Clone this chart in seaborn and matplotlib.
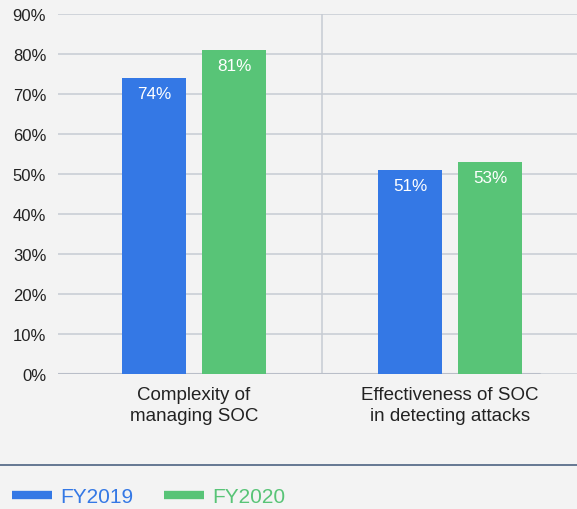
import pandas as pd
import matplotlib
matplotlib.use("Agg")
import matplotlib.pyplot as plt
from matplotlib.lines import Line2D
import seaborn as sns

# data
categories = ["Complexity of\nmanaging SOC", "Effectiveness of SOC\nin detecting attacks"]
fy2019 = [74, 51]
fy2020 = [81, 53]
years = ["FY2019", "FY2020"]
yticks = [0, 10, 20, 30, 40, 50, 60, 70, 80, 90]

BLUE = "#3478e5"
GREEN = "#58c477"
BG = "#f3f3f3"
GRID = "#c6cbd3"

df = pd.DataFrame({
    "category": categories * 2,
    "year": [years[0]] * 2 + [years[1]] * 2,
    "value": fy2019 + fy2020,
})

sns.set_theme(style="white")
plt.rcParams["font.family"] = ["Liberation Sans", "DejaVu Sans"]

fig = plt.figure(figsize=(5.77, 5.10), dpi=100, facecolor=BG)
ax = fig.add_axes([58 / 577, 1 - 375 / 510, 1 - 58 / 577, 360 / 510])
ax.set_facecolor(BG)

sns.barplot(data=df, x="category", y="value", hue="year", palette=[BLUE, GREEN],
            width=0.625, gap=0.2, saturation=1, ax=ax, legend=False,
            linewidth=0, edgecolor="none", zorder=3)

# value labels inside the bars, near the top
for cont in ax.containers:
    for bar in cont:
        h = bar.get_height()
        ax.text(bar.get_x() + bar.get_width() / 2, h - 1.9, f"{h:.0f}%",
                ha="center", va="top", color="white", fontsize=12.3, zorder=4)

ax.set_xlim(-0.531, 1.496)
ax.set_ylim(0, 90)
ax.set_yticks(yticks)
ax.set_yticklabels([f"{t}%" for t in yticks])
ax.yaxis.grid(True, color=GRID, linewidth=1.1, zorder=0)
ax.set_axisbelow(True)
for s in ax.spines.values():
    s.set_visible(False)
ax.axhline(0, xmin=0, xmax=(540 - 58) / (577 - 58), color="#b9bec8", linewidth=1.5, zorder=2)
ax.axvline(0.5, color=GRID, linewidth=1.1, zorder=1)

ax.tick_params(axis="y", length=0, pad=8.5, labelsize=12, labelcolor="#222222")
ax.tick_params(axis="x", length=0, pad=9, labelsize=13.5, labelcolor="#222222")
for lbl in ax.get_xticklabels():
    lbl.set_linespacing(1.3)
ax.set_xlabel("")
ax.set_ylabel("")

# separator line above the legend
fig.add_artist(Line2D([0, 1], [1 - 466 / 510, 1 - 466 / 510], color="#4d6282",
                      linewidth=1.2, transform=fig.transFigure))

handles = [Line2D([], [], color=BLUE, linewidth=6, solid_capstyle="butt"),
           Line2D([], [], color=GREEN, linewidth=6, solid_capstyle="butt")]
fig.legend(handles, years, loc="center left", bbox_to_anchor=(12 / 577, 1 - 498 / 510),
           ncol=2, frameon=False, fontsize=15, labelcolor=[BLUE, GREEN],
           handlelength=1.9, handletextpad=0.4, columnspacing=1.5,
           borderaxespad=0, borderpad=0)

fig.savefig("out.png", dpi=100, facecolor=BG)
